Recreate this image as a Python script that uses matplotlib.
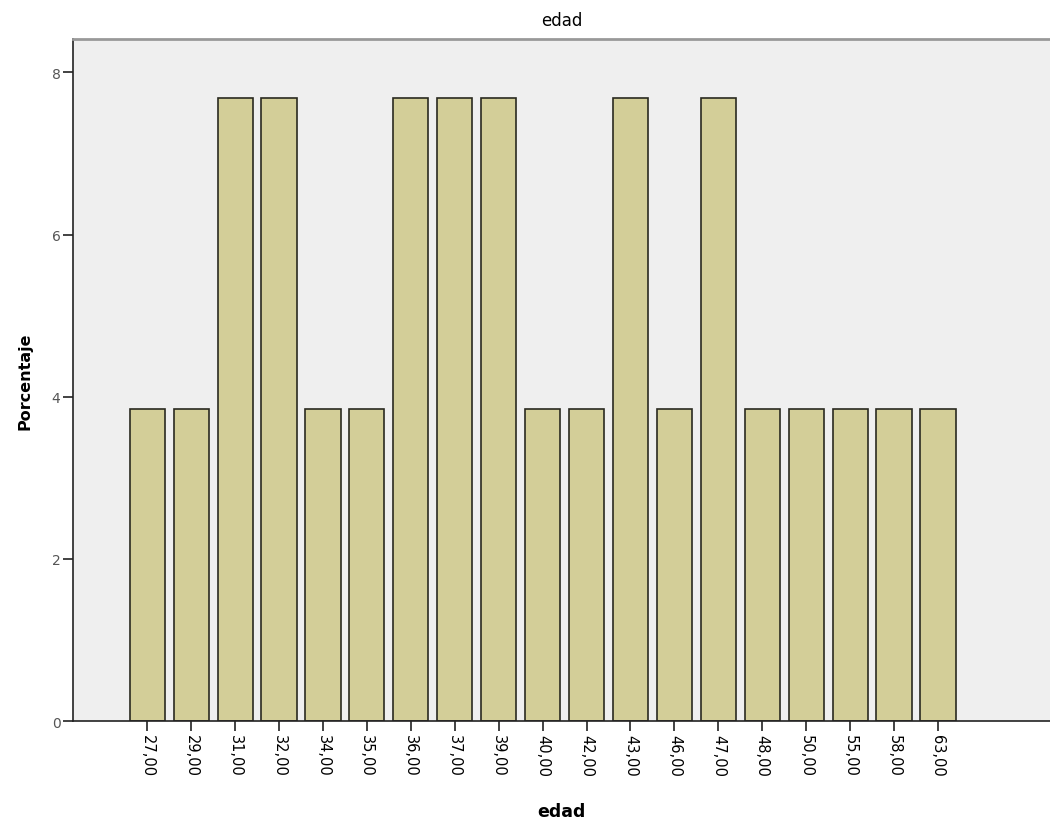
import numpy as np
import matplotlib.pyplot as plt

# edad categories and percentages (n = 26)
edades = ["27,00", "29,00", "31,00", "32,00", "34,00", "35,00", "36,00", "37,00",
          "39,00", "40,00", "42,00", "43,00", "46,00", "47,00", "48,00", "50,00",
          "55,00", "58,00", "63,00"]
porcentaje = [3.85, 3.85, 7.69, 7.69, 3.85, 3.85, 7.69, 7.69,
              7.69, 3.85, 3.85, 7.69, 3.85, 7.69, 3.85, 3.85,
              3.85, 3.85, 3.85]

fig = plt.figure(figsize=(10.5, 8.2), dpi=100)
ax = fig.add_axes([0.0695, 0.1195, 0.9305, 0.8315])
ax.set_facecolor("#efefef")

x = np.arange(len(edades))
ax.bar(x, porcentaje, width=0.8, color="#d3ce98", edgecolor="#2a2a20", linewidth=1.2)

ax.set_xlim(-1.69, 20.55)
ax.set_ylim(0, 8.41)
ax.set_xticks(x)
ax.set_xticklabels(edades, rotation=-90, fontsize=10.5)
ax.set_yticks([0, 2, 4, 6, 8])
ax.set_yticklabels(["0", "2", "4", "6", "8"], fontsize=10, color="#555555")
ax.tick_params(axis="x", length=7, width=1.2, color="#222222", pad=2)
ax.tick_params(axis="y", length=7, width=1.2, color="#222222", pad=2)

for side in ["left", "bottom"]:
    ax.spines[side].set_color("#222222")
    ax.spines[side].set_linewidth(1.2)
ax.spines["top"].set_color("#999999")
ax.spines["top"].set_linewidth(2)
ax.spines["right"].set_visible(False)

ax.set_title("edad", fontsize=12, pad=10)
ax.set_ylabel("Porcentaje", fontsize=11.5, fontweight="bold", labelpad=14)
ax.set_xlabel("edad", fontsize=12.5, fontweight="bold", labelpad=19)

fig.savefig("out.png", dpi=100)
